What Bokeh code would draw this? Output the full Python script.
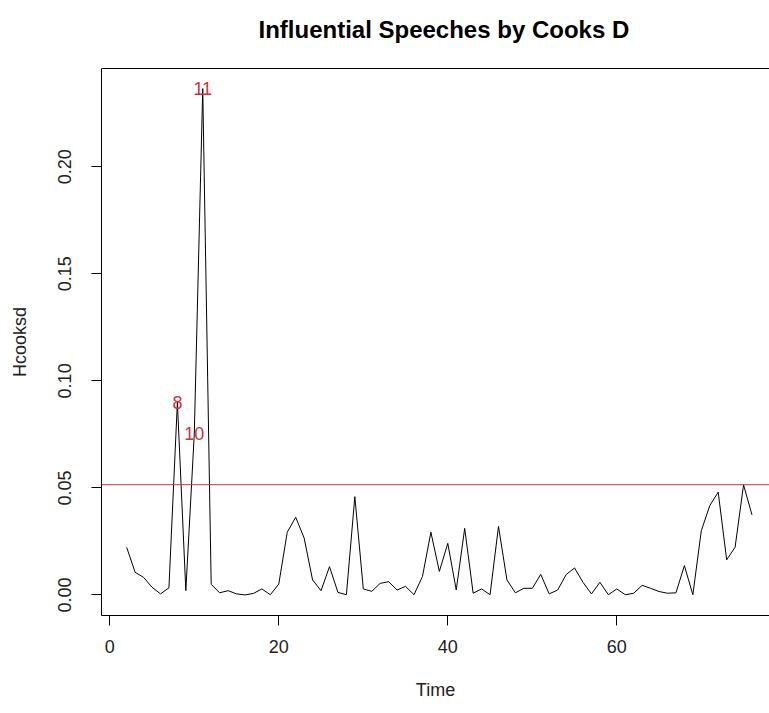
from bokeh.plotting import figure
from bokeh.models import FixedTicker, LinearAxis, Span, NumeralTickFormatter, ColumnDataSource, Title
from bokeh.embed import file_html
from bokeh.resources import INLINE
from bokeh.core.properties import value

time = list(range(2, 77))
hcooksd = [
    0.0222, 0.0106, 0.0082, 0.0036, 0.0005, 0.0033, 0.0900, 0.0020, 0.0752, 0.2365,
    0.0050, 0.0010, 0.0020, 0.0005, 0.0000, 0.0007, 0.0028, 0.0001, 0.0051, 0.0293,
    0.0363, 0.0266, 0.0070, 0.0020, 0.0132, 0.0012, 0.0001, 0.0459, 0.0028, 0.0017,
    0.0054, 0.0062, 0.0023, 0.0040, 0.0001, 0.0086, 0.0293, 0.0110, 0.0241, 0.0023,
    0.0311, 0.0008, 0.0028, 0.0001, 0.0320, 0.0070, 0.0010, 0.0031, 0.0031, 0.0096,
    0.0005, 0.0023, 0.0095, 0.0126, 0.0059, 0.0005, 0.0059, 0.0001, 0.0028, 0.0001,
    0.0008, 0.0045, 0.0031, 0.0016, 0.0008, 0.0010, 0.0137, 0.0001, 0.0300, 0.0417,
    0.0480, 0.0164, 0.0223, 0.0514, 0.0374,
]
cutoff = 0.0515
influential = [8, 10, 11]
x_ticks = [0, 20, 40, 60]
y_ticks = [0.0, 0.05, 0.10, 0.15, 0.20]
title_text = "Influential Speeches by Cooks D"

FONT = "Liberation Sans"
RED = "#cc3340"

p = figure(width=769, height=713, x_range=(-0.98, 78.07), y_range=(-0.0096, 0.2459),
           output_backend="svg", toolbar_location=None,
           min_border_left=101, min_border_right=0, min_border_top=68, min_border_bottom=98)
p.outline_line_color = None
p.xgrid.visible = False
p.ygrid.visible = False
p.background_fill_color = "white"
p.border_fill_color = "white"

for ax in (p.xaxis[0], p.yaxis[0]):
    ax.axis_line_color = "black"
    ax.major_tick_line_color = "black"
    ax.major_tick_out = 10
    ax.major_tick_in = 0
    ax.minor_tick_line_color = None
    ax.major_label_text_font = FONT
    ax.major_label_text_font_size = "18px"
    ax.major_label_text_color = "#222222"
    ax.axis_label_text_font = FONT
    ax.axis_label_text_font_size = "18px"
    ax.axis_label_text_font_style = "normal"
    ax.axis_label_text_color = "#222222"

p.xaxis[0].ticker = FixedTicker(ticks=x_ticks)
p.yaxis[0].ticker = FixedTicker(ticks=y_ticks)
p.yaxis[0].formatter = NumeralTickFormatter(format="0.00")
p.yaxis[0].major_label_orientation = "vertical"
p.xaxis[0].axis_label = "Time"
p.yaxis[0].axis_label = "Hcooksd"
p.xaxis[0].major_label_standoff = 14
p.yaxis[0].major_label_standoff = 20
p.xaxis[0].axis_label_standoff = 24
p.yaxis[0].axis_label_standoff = 26

# top border line of the box (no ticks/labels)
top = LinearAxis(major_tick_line_color=None, minor_tick_line_color=None,
                 major_label_text_color=None, major_label_text_font_size="1px",
                 axis_line_color="black", ticker=FixedTicker(ticks=[]))
p.add_layout(top, "above")
# spacer panel so the title sits higher above the box
p.add_layout(Title(text=" ", text_font_size="10px", standoff=10), "above")
p.add_layout(Title(text=title_text, align="left", offset=157, standoff=5,
                   text_font=FONT, text_font_style="bold", text_font_size="24px",
                   text_color="black"), "above")

src = ColumnDataSource(dict(x=time, y=hcooksd))
p.line("x", "y", source=src, line_color="black", line_width=1)

p.add_layout(Span(location=cutoff, dimension="width", line_color=RED, line_width=1))

lab = ColumnDataSource(dict(x=influential,
                            y=[hcooksd[time.index(i)] for i in influential],
                            t=[str(i) for i in influential]))
p.text("x", "y", text="t", source=lab, text_color=RED, text_font=value(FONT),
       text_font_size="18px", text_align="center", text_baseline="middle")

open("out.html", "w").write(file_html(p, INLINE))
